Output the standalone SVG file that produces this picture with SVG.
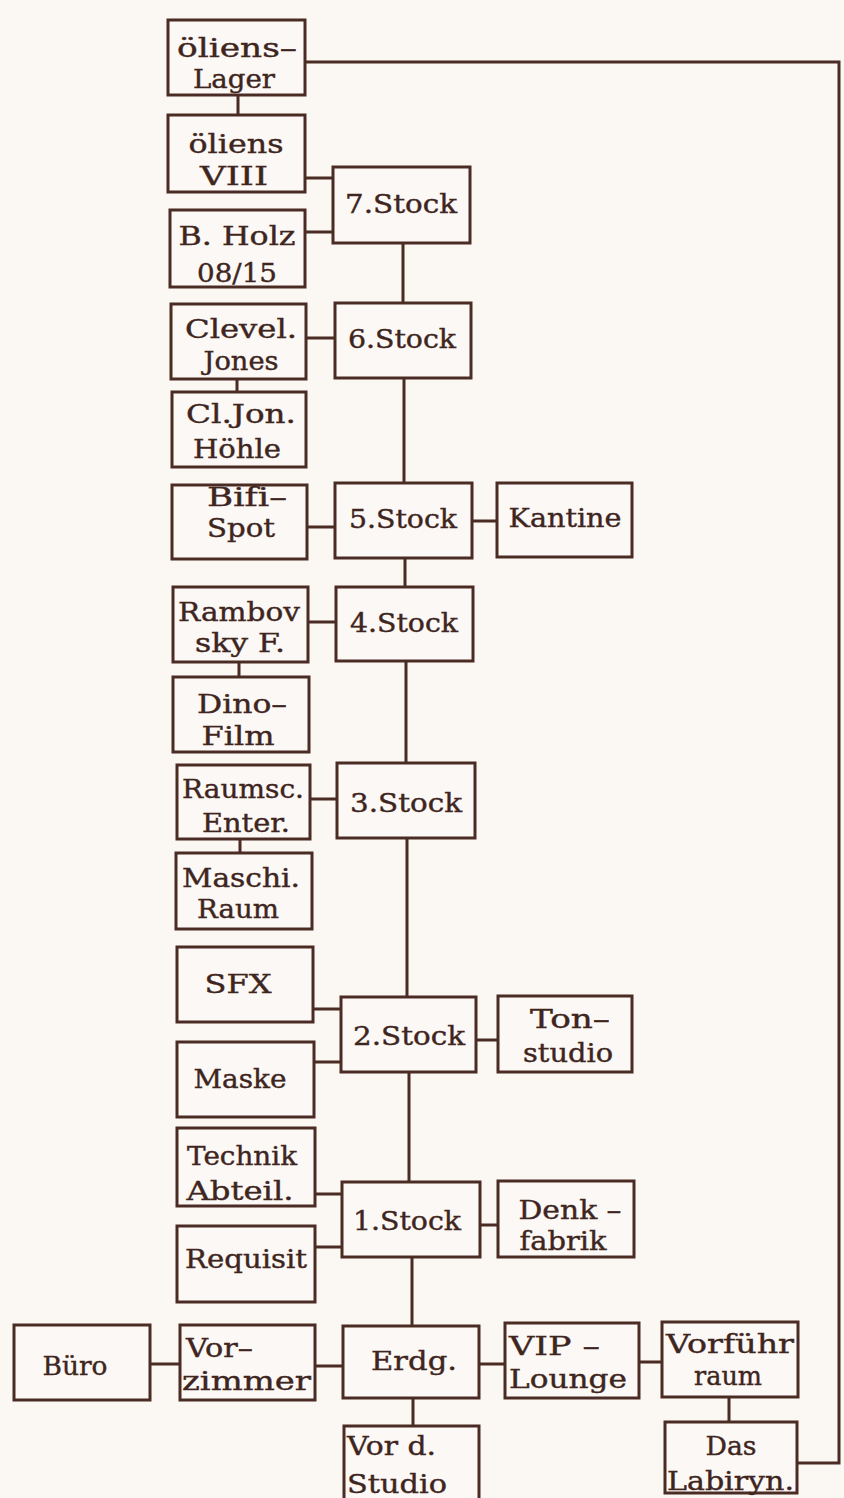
<svg xmlns="http://www.w3.org/2000/svg" width="844" height="1498" viewBox="0 0 844 1498">
<style>
.bg{fill:#fbf7f3}
.box{fill:#fcf8f5;stroke:#4a2c25;stroke-width:3}
.c{fill:none;stroke:#4a2c25;stroke-width:3}
text{font-family:"DejaVu Serif","Liberation Serif",serif;font-size:26px;fill:#3e2520;stroke:#3e2520;stroke-width:0.4;font-variant-ligatures:none}
.m{text-anchor:middle}
</style>
<rect class="bg" x="0" y="0" width="844" height="1498"/>
<g id="connectors">
<path class="c" d="M238 95V115M305 178H333M305 232H333M403 243V303M306 338H335M237 379V392M404 378V483M307 527H335M472 521H497M405 558V587M308 622H336M239 662V677M406 661V763M310 799H337M240 839V853M407 838V997M313 1009H341M314 1062H341M476 1040H498M409 1072V1182M315 1194H342M315 1247H342M480 1225H498M412 1257V1326M150 1364H180M315 1366H343M479 1364H505M639 1362H662M413 1398V1426M729 1397V1422"/>
<polyline class="c" stroke-width="2.5" points="305,62 839,62 839,1463 797,1463"/>
</g>
<g id="oliens-lager"><rect class="box" x="168" y="20" width="137" height="75"/><text class="m" x="237" y="57" textLength="120" lengthAdjust="spacingAndGlyphs">öliens–</text><text class="m" x="234" y="88" textLength="82" lengthAdjust="spacingAndGlyphs">Lager</text></g>
<g id="oliens-viii"><rect class="box" x="168" y="115" width="137" height="77"/><text class="m" x="236" y="153" textLength="95" lengthAdjust="spacingAndGlyphs">öliens</text><text class="m" x="234" y="185" textLength="68" lengthAdjust="spacingAndGlyphs">VIII</text></g>
<g id="b-holz"><rect class="box" x="170" y="210" width="135" height="77"/><text class="m" x="237" y="245" textLength="117" lengthAdjust="spacingAndGlyphs">B. Holz</text><text class="m" x="237" y="282" textLength="80" lengthAdjust="spacingAndGlyphs">08/15</text></g>
<g id="stock7"><rect class="box" x="333" y="167" width="137" height="76"/><text class="m" x="401" y="213" textLength="112" lengthAdjust="spacingAndGlyphs">7.Stock</text></g>
<g id="clevel-jones"><rect class="box" x="171" y="304" width="135" height="75"/><text class="m" x="241" y="338" textLength="112" lengthAdjust="spacingAndGlyphs">Clevel.</text><text class="m" x="241" y="370" textLength="75" lengthAdjust="spacingAndGlyphs">Jones</text></g>
<g id="cljon-hoehle"><rect class="box" x="172" y="392" width="134" height="75"/><text class="m" x="241" y="423" textLength="110" lengthAdjust="spacingAndGlyphs">Cl.Jon.</text><text class="m" x="237" y="458" textLength="88" lengthAdjust="spacingAndGlyphs">Höhle</text></g>
<g id="stock6"><rect class="box" x="335" y="303" width="136" height="75"/><text class="m" x="402" y="348" textLength="108" lengthAdjust="spacingAndGlyphs">6.Stock</text></g>
<g id="bifi-spot"><rect class="box" x="172" y="485" width="135" height="74"/><text class="m" x="247" y="506" textLength="80" lengthAdjust="spacingAndGlyphs">Bifi–</text><text class="m" x="241" y="537" textLength="68" lengthAdjust="spacingAndGlyphs">Spot</text></g>
<g id="stock5"><rect class="box" x="335" y="483" width="137" height="75"/><text class="m" x="403" y="528" textLength="108" lengthAdjust="spacingAndGlyphs">5.Stock</text></g>
<g id="kantine"><rect class="box" x="497" y="483" width="135" height="74"/><text class="m" x="565" y="527" textLength="113" lengthAdjust="spacingAndGlyphs">Kantine</text></g>
<g id="rambovsky"><rect class="box" x="173" y="587" width="135" height="75"/><text class="m" x="239" y="621" textLength="122" lengthAdjust="spacingAndGlyphs">Rambov</text><text class="m" x="240" y="652" textLength="90" lengthAdjust="spacingAndGlyphs">sky F.</text></g>
<g id="dino-film"><rect class="box" x="173" y="677" width="136" height="75"/><text class="m" x="242" y="713" textLength="90" lengthAdjust="spacingAndGlyphs">Dino–</text><text class="m" x="238" y="745" textLength="73" lengthAdjust="spacingAndGlyphs">Film</text></g>
<g id="stock4"><rect class="box" x="336" y="587" width="137" height="74"/><text class="m" x="404" y="632" textLength="108" lengthAdjust="spacingAndGlyphs">4.Stock</text></g>
<g id="raumsc-enter"><rect class="box" x="177" y="765" width="133" height="74"/><text class="m" x="243" y="798" textLength="122" lengthAdjust="spacingAndGlyphs">Raumsc.</text><text class="m" x="246" y="832" textLength="88" lengthAdjust="spacingAndGlyphs">Enter.</text></g>
<g id="stock3"><rect class="box" x="337" y="763" width="138" height="75"/><text class="m" x="406" y="812" textLength="112" lengthAdjust="spacingAndGlyphs">3.Stock</text></g>
<g id="maschi-raum"><rect class="box" x="176" y="853" width="136" height="76"/><text class="m" x="241" y="887" textLength="118" lengthAdjust="spacingAndGlyphs">Maschi.</text><text class="m" x="238" y="918" textLength="82" lengthAdjust="spacingAndGlyphs">Raum</text></g>
<g id="sfx"><rect class="box" x="177" y="947" width="136" height="75"/><text class="m" x="238" y="993" textLength="67" lengthAdjust="spacingAndGlyphs">SFX</text></g>
<g id="maske"><rect class="box" x="177" y="1042" width="137" height="75"/><text class="m" x="240" y="1088" textLength="93" lengthAdjust="spacingAndGlyphs">Maske</text></g>
<g id="stock2"><rect class="box" x="341" y="997" width="135" height="75"/><text class="m" x="409" y="1045" textLength="112" lengthAdjust="spacingAndGlyphs">2.Stock</text></g>
<g id="tonstudio"><rect class="box" x="498" y="996" width="134" height="76"/><text class="m" x="570" y="1028" textLength="80" lengthAdjust="spacingAndGlyphs">Ton–</text><text class="m" x="568" y="1062" textLength="90" lengthAdjust="spacingAndGlyphs">studio</text></g>
<g id="technik"><rect class="box" x="177" y="1128" width="138" height="78"/><text class="m" x="242" y="1165" textLength="110" lengthAdjust="spacingAndGlyphs">Technik</text><text class="m" x="240" y="1200" textLength="107" lengthAdjust="spacingAndGlyphs">Abteil.</text></g>
<g id="requisit"><rect class="box" x="177" y="1226" width="138" height="76"/><text class="m" x="246" y="1268" textLength="122" lengthAdjust="spacingAndGlyphs">Requisit</text></g>
<g id="stock1"><rect class="box" x="342" y="1182" width="138" height="75"/><text class="m" x="407" y="1230" textLength="108" lengthAdjust="spacingAndGlyphs">1.Stock</text></g>
<g id="denkfabrik"><rect class="box" x="498" y="1181" width="136" height="76"/><text class="m" x="570" y="1219" textLength="103" lengthAdjust="spacingAndGlyphs">Denk –</text><text class="m" x="563" y="1250" textLength="87" lengthAdjust="spacingAndGlyphs">fabrik</text></g>
<g id="buero"><rect class="box" x="14" y="1325" width="136" height="75"/><text class="m" x="75" y="1375" textLength="65" lengthAdjust="spacingAndGlyphs">Büro</text></g>
<g id="vorzimmer"><rect class="box" x="180" y="1325" width="135" height="75"/><text x="186" y="1357" textLength="67" lengthAdjust="spacingAndGlyphs">Vor–</text><text x="182" y="1390" textLength="129" lengthAdjust="spacingAndGlyphs">zimmer</text></g>
<g id="erdg"><rect class="box" x="343" y="1326" width="136" height="72"/><text class="m" x="414" y="1370" textLength="86" lengthAdjust="spacingAndGlyphs">Erdg.</text></g>
<g id="vip-lounge"><rect class="box" x="505" y="1323" width="134" height="75"/><text x="509" y="1355" textLength="91" lengthAdjust="spacingAndGlyphs">VIP –</text><text x="509" y="1388" textLength="118" lengthAdjust="spacingAndGlyphs">Lounge</text></g>
<g id="vorfuehrraum"><rect class="box" x="662" y="1322" width="136" height="75"/><text class="m" x="730" y="1353" textLength="128" lengthAdjust="spacingAndGlyphs">Vorführ</text><text class="m" x="728" y="1385" textLength="68" lengthAdjust="spacingAndGlyphs">raum</text></g>
<g id="vor-d-studio"><rect class="box" x="344" y="1426" width="135" height="80"/><text x="347" y="1455" textLength="89" lengthAdjust="spacingAndGlyphs">Vor d.</text><text x="347" y="1493" textLength="100" lengthAdjust="spacingAndGlyphs">Studio</text></g>
<g id="das-labiryn"><rect class="box" x="665" y="1422" width="132" height="71"/><text class="m" x="731" y="1455" textLength="51" lengthAdjust="spacingAndGlyphs">Das</text><text x="667" y="1490" textLength="127" lengthAdjust="spacingAndGlyphs">Labiryn.</text></g>
</svg>
